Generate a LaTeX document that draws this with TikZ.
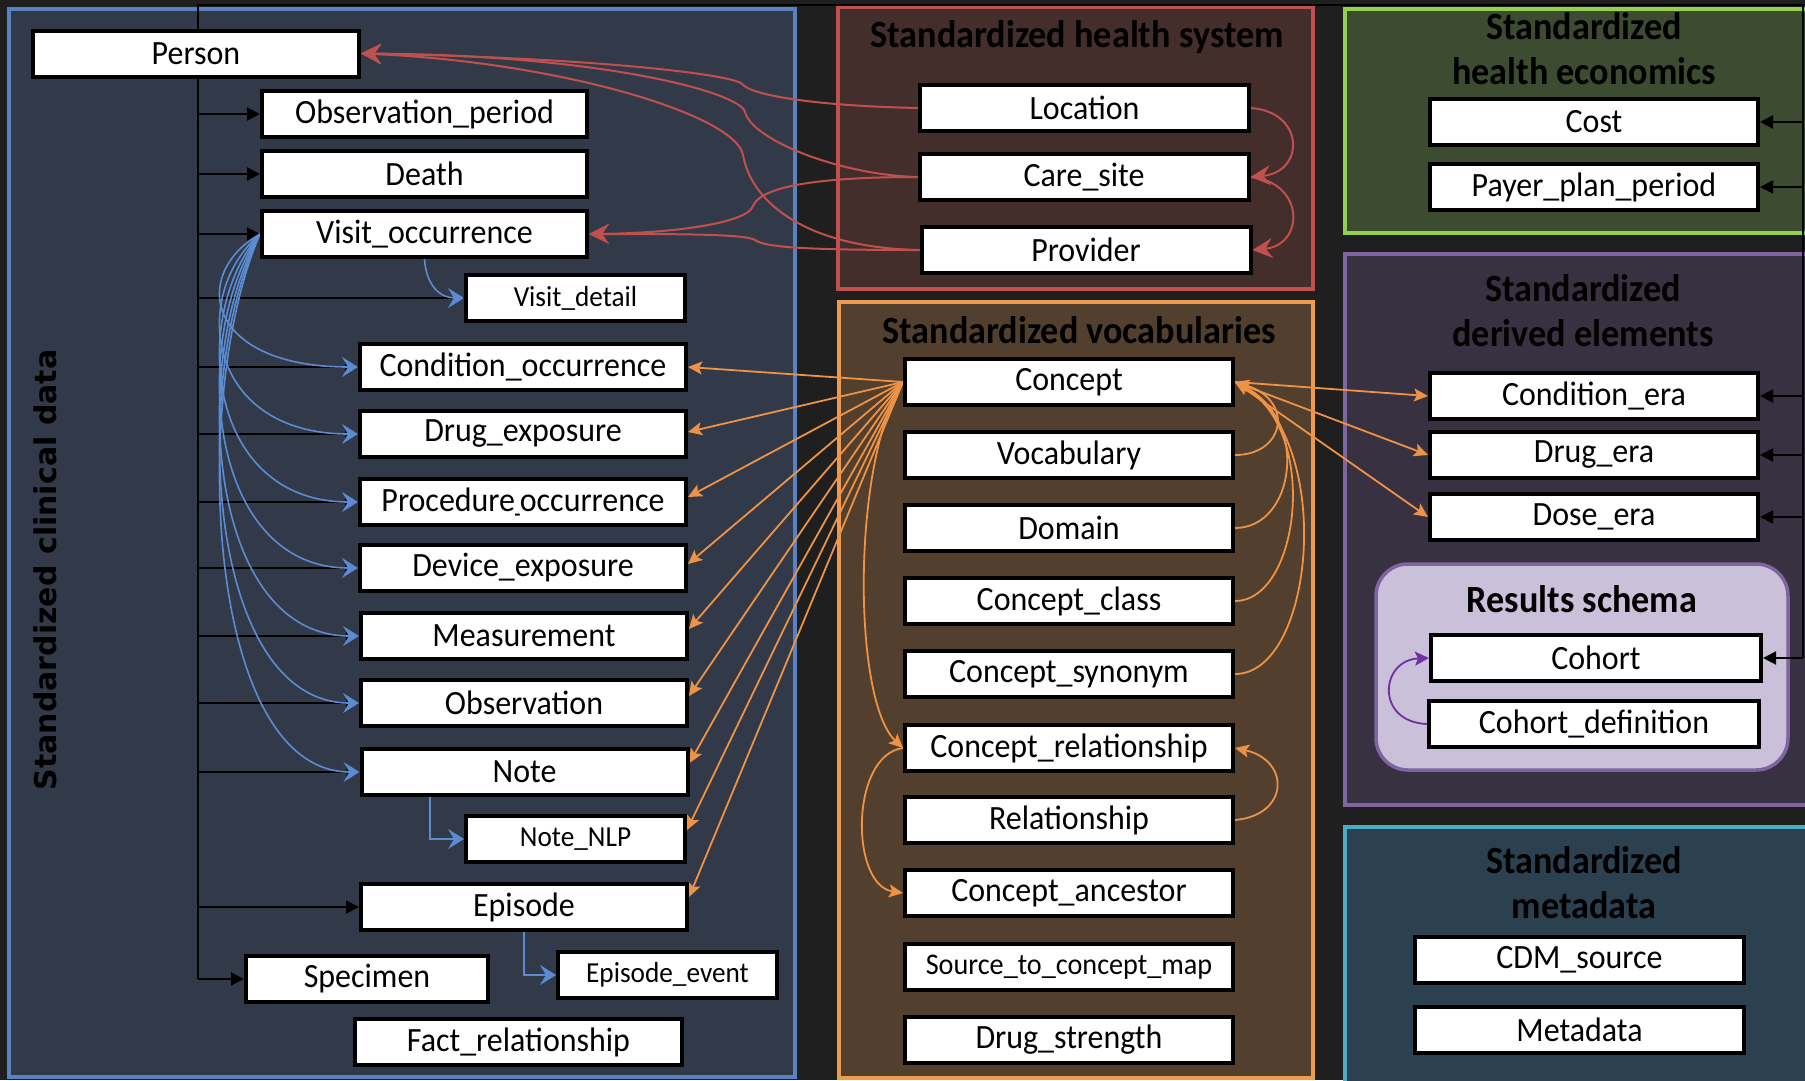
\documentclass[tikz,border=0pt]{standalone}
\usepackage{fontspec}
\setmainfont{Carlito}[FakeStretch=0.94]
\newfontfamily\lblfont{DejaVu Sans}
\usetikzlibrary{arrows.meta,calc}
\pgfdeclarelayer{bg}
\pgfdeclarelayer{lines}
\pgfsetlayers{bg,lines,main}

\definecolor{bgc}{HTML}{1F1F1F}
\definecolor{clinfill}{HTML}{323A49}
\definecolor{clinborder}{HTML}{5B82C0}
\definecolor{hsfill}{HTML}{442E2C}
\definecolor{hsborder}{HTML}{C0504D}
\definecolor{vocfill}{HTML}{533F2E}
\definecolor{vocborder}{HTML}{EE9A50}
\definecolor{ecofill}{HTML}{3D4B30}
\definecolor{ecoborder}{HTML}{92D050}
\definecolor{derfill}{HTML}{383141}
\definecolor{derborder}{HTML}{8064A2}
\definecolor{resfill}{HTML}{CBC0DA}
\definecolor{metafill}{HTML}{2C4150}
\definecolor{metaborder}{HTML}{4BACC6}
\definecolor{redc}{HTML}{C0504D}
\definecolor{bluec}{HTML}{5B8CD2}
\definecolor{orangec}{HTML}{EE9245}
\definecolor{purplec}{HTML}{7030A0}

\newcommand{\boxfont}{\fontsize{34pt}{40pt}\selectfont}
\newcommand{\smallboxfont}{\fontsize{29pt}{34pt}\selectfont}
\newcommand{\headfont}{\fontsize{38.5pt}{45pt}\selectfont\bfseries}

\tikzset{
  box/.style={draw=black, line width=4pt, fill=white, minimum height=46pt,
    minimum width=326pt, inner sep=0pt, font=\boxfont, text=black},
  sbox/.style={box, font=\smallboxfont, minimum width=219pt},
  head/.style={font=\headfont, text=black, align=center, inner sep=0pt},
  panel/.style={line width=3.5pt},
  blkline/.style={draw=black, line width=2pt, line join=miter},
  blkarr/.style={blkline, -{Triangle[length=13pt,width=13pt]}},
  redarr/.style={draw=redc, line width=2pt, -{Stealth[length=20pt,width=20pt,inset=7pt]}},
  bluearr/.style={draw=bluec, line width=1.6pt, -{Stealth[length=16pt,width=20pt,inset=6pt]}},
  orarr/.style={draw=orangec, line width=1.8pt, -{Stealth[length=14pt,width=13pt,inset=3pt]}},
  purarr/.style={draw=purplec, line width=1.8pt, -{Stealth[length=14pt,width=14pt,inset=3pt]}}
}

\begin{document}
\begin{tikzpicture}[x=1pt,y=-1pt]
\useasboundingbox (0,0) rectangle (1805,1080);

% ---------- boxes ----------
% clinical
\node[box] (person) at (196,53.5) {Person};
\node[box, minimum width=325pt] (obsp) at (424.5,114) {Observation\_period};
\node[box, minimum width=325pt] (death) at (424.5,174) {Death};
\node[box, minimum width=325pt] (vo) at (424.5,234) {Visit\_occurrence};
\node[sbox] (vd) at (575.5,298) {Visit\_detail};
\node[box] (cond) at (523,367) {Condition\_occurrence};
\node[box] (drug) at (523,434) {Drug\_exposure};
\node[box] (proc) at (523,502) {Procedure{\scalebox{0.3}[1]{\_}}occurrence};
\node[box] (dev) at (523,568) {Device\_exposure};
\node[box] (meas) at (524,636) {Measurement};
\node[box] (obs) at (524,703) {Observation};
\node[box] (note) at (524.5,772) {Note};
\node[sbox] (nlp) at (575.5,839) {Note\_NLP};
\node[box] (episode) at (524,907) {Episode};
\node[box, minimum width=242pt] (specimen) at (367,979) {Specimen};
\node[sbox] (epev) at (667.5,975) {Episode\_event};
\node[box, minimum width=327pt] (fact) at (518.5,1042) {Fact\_relationship};
\node[font=\lblfont\fontsize{30pt}{36pt}\selectfont\bfseries, text=black, rotate=90, inner sep=0pt] (clintitle) at (45,570) {Standardized clinical data};

% health system
\node[head] (hstitle) at (1077,37) {Standardized health system};
\node[box, minimum width=329pt] (loc) at (1084.5,108) {Location};
\node[box, minimum width=329pt] (care) at (1084,177) {Care\_site};
\node[box, minimum width=329pt] (prov) at (1086,250) {Provider};

% vocabularies
\node[head] (voctitle) at (1079,330) {Standardized vocabularies};
\node[box, minimum width=328pt] (concept) at (1069,382) {Concept};
\node[box, minimum width=328pt] (vocab) at (1069,455) {Vocabulary};
\node[box, minimum width=328pt] (domain) at (1069,528) {Domain};
\node[box, minimum width=328pt] (cclass) at (1069,601) {Concept\_class};
\node[box, minimum width=328pt] (csyn) at (1069,674) {Concept\_synonym};
\node[box, minimum width=328pt] (crel) at (1069,748) {Concept\_relationship};
\node[box, minimum width=328pt] (rel) at (1069,820) {Relationship};
\node[box, minimum width=328pt] (canc) at (1069,893) {Concept\_ancestor};
\node[box, minimum width=328pt, font=\fontsize{30pt}{35pt}\selectfont] (s2c) at (1069,967) {Source\_to\_concept\_map};
\node[box, minimum width=328pt] (dstr) at (1069,1040) {Drug\_strength};

% health economics
\node[head] (ecotitle) at (1584,49) {Standardized\\health economics};
\node[box, minimum width=328pt] (cost) at (1594,122) {Cost};
\node[box, minimum width=328pt] (payer) at (1594,187) {Payer\_plan\_period};

% derived
\node[head] (dertitle) at (1583,311) {Standardized\\derived elements};
\node[box, minimum width=328pt] (condera) at (1594,396) {Condition\_era};
\node[box, minimum width=328pt] (drugera) at (1594,455) {Drug\_era};
\node[box, minimum width=328pt] (doseera) at (1594,517) {Dose\_era};
\node[head] (restitle) at (1582,599) {Results schema};
\node[box, minimum width=330pt] (cohort) at (1596,658) {Cohort};
\node[box, minimum width=330pt] (cohdef) at (1594,724) {Cohort\_definition};

% metadata
\node[head] (metatitle) at (1584,883) {Standardized\\metadata};
\node[box, minimum width=329pt] (cdm) at (1579.5,960) {CDM\_source};
\node[box, minimum width=329pt] (meta) at (1579.5,1030) {Metadata};

% ---------- panels ----------
\begin{pgfonlayer}{bg}
\fill[bgc] (0,0) rectangle (1805,1080);
\draw[panel, fill=clinfill, draw=clinborder] (9,9) rectangle (795,1077);
\draw[panel, fill=hsfill, draw=hsborder] (838,7) rectangle (1313,289);
\draw[panel, fill=vocfill, draw=vocborder] (839,302) rectangle (1313,1078);
\draw[panel, fill=ecofill, draw=ecoborder] (1345,9) rectangle (1830,233);
\draw[panel, fill=derfill, draw=derborder] (1345,254) rectangle (1830,805);
\draw[panel, fill=resfill, draw=derborder, rounded corners=32pt] (1376,564) rectangle (1788,770);
\draw[panel, fill=metafill, draw=metaborder] (1345,827) rectangle (1830,1090);
\end{pgfonlayer}

% ---------- connectors ----------
\begin{pgfonlayer}{lines}
\coordinate (ltrunk) at (198,5);
\coordinate (rtrunk) at (1803,5);
\draw[blkline] (ltrunk |- specimen.west) -- (ltrunk) -- (rtrunk) -- (rtrunk |- cohort.east);
\foreach \n in {obsp,death,vo,cond,drug,proc,dev,meas,obs,note,episode,specimen}
  \draw[blkarr] (\n.west -| ltrunk) -- (\n.west);
\draw[blkline] (vd.west -| ltrunk) -- (vd.west);
\foreach \n in {cost,payer,condera,drugera,doseera,cohort}
  \draw[blkarr] (\n.east -| rtrunk) -- (\n.east);

% blue
\draw[bluearr] (vo.west) .. controls (190,274) and (205,367) .. (cond.west);
\draw[bluearr] (vo.west) .. controls (190,294) and (205,434) .. (drug.west);
\draw[bluearr] (vo.west) .. controls (190,314) and (205,502) .. (proc.west);
\draw[bluearr] (vo.west) .. controls (190,334) and (205,568) .. (dev.west);
\draw[bluearr] (vo.west) .. controls (190,355) and (205,636) .. (meas.west);
\draw[bluearr] (vo.west) .. controls (190,375) and (205,703) .. (obs.west);
\draw[bluearr] (vo.west) .. controls (190,395) and (205,772) .. (note.west);
\draw[bluearr] (vo.south) .. controls (426,285) and (440,298) .. (vd.west);
\draw[bluearr] ([xshift=-94.5pt]note.south) |- (nlp.west);
\draw[bluearr] (episode.south) |- (epev.west);

% red
\draw[redarr] (loc.west) .. controls (820,106) and (752,96) .. (742,84) .. controls (735,75) and (600,58) .. (person.east);
\draw[redarr] (care.west) .. controls (840,175) and (752,140) .. (745,112) .. controls (740,92) and (600,55) .. (person.east);
\draw[redarr] (care.west) .. controls (810,177) and (760,188) .. (753,206) .. controls (748,222) and (680,233) .. (vo.east);
\draw[redarr] (prov.west) .. controls (810,248) and (752,205) .. (743,155) .. controls (736,115) and (560,62) .. (person.east);
\draw[redarr] (prov.west) .. controls (800,250) and (765,247) .. (755,240) .. controls (745,234) and (680,234) .. (vo.east);
\draw[redarr] (loc.east) .. controls (1305,112) and (1305,172) .. (care.east);
\draw[redarr] (care.east) .. controls (1305,182) and (1305,245) .. (prov.east);

% orange
\foreach \n/\s in {cond/0,drug/2,proc/5,dev/4,meas/7,obs/7,note/9,nlp/9,episode/10}
  \draw[orarr] (concept.west) -- ([yshift=\s pt]\n.east);
\foreach \n in {condera,drugera,doseera}
  \draw[orarr] (concept.east) -- (\n.west);
\draw[orarr] (vocab.east) .. controls (1285,455) and (1295,400) .. (concept.east);
\draw[orarr] (domain.east) .. controls (1295,528) and (1310,420) .. (concept.east);
\draw[orarr] (cclass.east) .. controls (1300,601) and (1320,430) .. (concept.east);
\draw[orarr] (csyn.east) .. controls (1315,674) and (1335,440) .. (concept.east);
\draw[orarr] (rel.east) .. controls (1290,815) and (1290,760) .. (crel.east);
\draw[orarr] (concept.west) .. controls (852,460) and (852,700) .. (crel.west);
\draw[orarr] (crel.west) .. controls (850,755) and (850,885) .. (canc.west);

% purple
\draw[purarr] (cohdef.west) .. controls (1375,722) and (1380,660) .. (cohort.west);
\end{pgfonlayer}
\end{tikzpicture}
\end{document}
